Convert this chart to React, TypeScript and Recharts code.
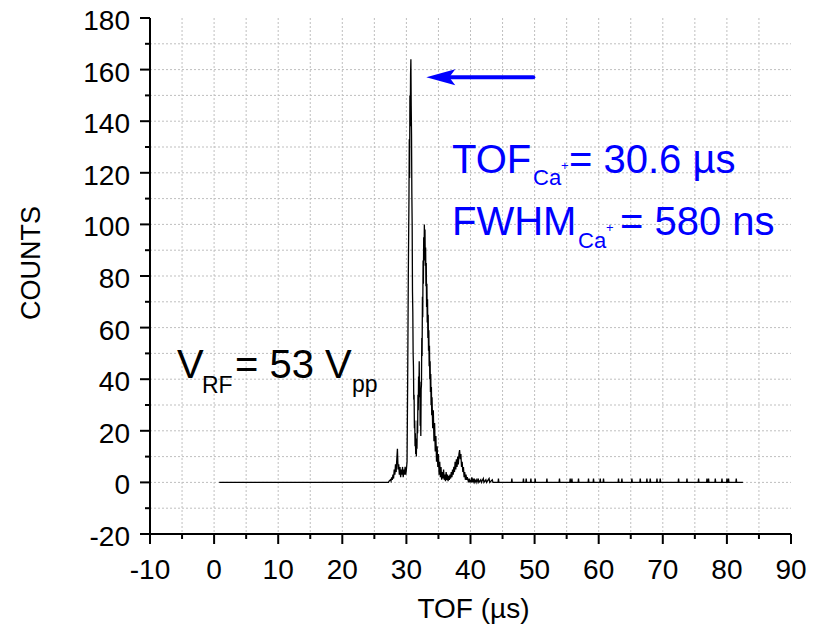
import { LineChart, Line, XAxis, YAxis, CartesianGrid, ReferenceLine } from 'recharts';

const FONT = '"Liberation Sans", Arial, Helvetica, sans-serif';
const BLUE = '#0000ff';

// axis ticks (major every 10 / 20, minor halfway)
const xTicks = [-10, -5, 0, 5, 10, 15, 20, 25, 30, 35, 40, 45, 50, 55, 60, 65, 70, 75, 80, 85, 90];
const yTicks = [-20, -10, 0, 10, 20, 30, 40, 50, 60, 70, 80, 90, 100, 110, 120, 130, 140, 150, 160, 170, 180];
const xGrid = [-5, 0, 5, 10, 15, 20, 25, 30, 35, 40, 45, 50, 55, 60, 65, 70, 75, 80, 85];
const yGrid = [-10, 0, 10, 20, 30, 40, 50, 60, 70, 80, 90, 100, 110, 120, 130, 140, 150, 160, 170];

// flat start of the trace
const leadTof = [0.8, 27.0];
const leadCounts = [0, 0];

// Ca+ peak region
const peakTof = [
  27.2, 27.3, 27.5, 27.6, 27.7, 27.8, 27.9, 28.0, 28.1, 28.2,
  28.3, 28.4, 28.5, 28.6, 28.7, 28.8, 28.9, 29.0, 29.1, 29.2,
  29.3, 29.4, 29.5, 29.6, 29.7, 29.8, 29.9, 30.0, 30.1, 30.2,
  30.3, 30.4, 30.45, 30.5, 30.55, 30.6, 30.65, 30.7, 30.75, 30.8,
  30.85, 30.9, 30.95, 31.0, 31.05, 31.1, 31.15, 31.2, 31.25, 31.3,
  31.35, 31.4, 31.45, 31.5, 31.55, 31.6, 31.65, 31.7, 31.75, 31.8,
  31.85, 31.9, 31.95, 32.0, 32.05, 32.1, 32.15, 32.2, 32.25, 32.3,
  32.35, 32.4, 32.45, 32.5, 32.55, 32.6, 32.65, 32.7, 32.75, 32.8,
  32.85, 32.9, 32.95, 33.0, 33.05, 33.1, 33.15, 33.2, 33.25, 33.3,
  33.35, 33.4, 33.45, 33.5, 33.55, 33.6, 33.65, 33.7, 33.75, 33.8,
  33.85, 33.9, 33.95, 34.0, 34.1, 34.2, 34.3, 34.4, 34.5, 34.6,
  34.7, 34.8, 34.9, 35.0, 35.1, 35.2, 35.3, 35.4, 35.5, 35.6,
  35.7, 35.8, 35.9, 36.0, 36.1, 36.2, 36.3, 36.4, 36.5, 36.6,
  36.7, 36.8, 36.9, 37.0, 37.1, 37.2, 37.3, 37.4, 37.5, 37.6,
  37.7, 37.8, 37.9, 38.0, 38.1, 38.2, 38.3, 38.4, 38.5, 38.6,
  38.7, 38.8, 38.9, 39.0, 39.1, 39.2, 39.3, 39.4, 39.5,
];
const peakCounts = [
  0, 0.5, 1, 0.5, 2, 1, 3, 1.5, 5, 3,
  7, 4, 9, 13, 5, 7, 3, 6, 2, 5,
  3, 6, 2, 5, 3, 6, 3, 5, 8, 40,
  81, 110, 133, 118, 150, 138, 158, 164, 146, 135,
  112, 100, 74, 66, 50, 45, 32, 34, 21, 24,
  14, 19, 11, 15, 10, 17, 13, 24, 19, 34,
  28, 41, 34, 47, 33, 39, 22, 29, 18, 36,
  38, 56, 49, 72, 64, 86, 77, 95, 86, 100,
  90, 98, 84, 91, 76, 85, 68, 77, 62, 71,
  56, 65, 51, 59, 45, 53, 40, 47, 35, 42,
  30, 37, 26, 33, 21, 28, 16, 23, 12, 18,
  8, 14, 6, 11, 3, 8, 2, 6, 1, 4,
  1.5, 5, 1, 3, 0.5, 4, 1, 3, 0.5, 2.5,
  1, 3, 1.5, 4, 2, 5, 3, 6, 4, 8,
  5, 9, 6, 10, 7, 11, 12.5, 9, 11, 6,
  8, 4, 6, 2, 4, 1, 3, 1, 2,
];

// sparse single-count noise in the tail
const tailTof = [
  39.6, 39.7, 39.8, 39.9, 40.0, 40.1, 40.2, 40.3, 40.4, 40.5,
  40.6, 40.7, 40.9, 41.0, 41.2, 41.3, 41.6, 41.7, 42.0, 42.1,
  42.4, 42.5, 42.9, 43.0, 43.4, 43.5, 44.3, 44.36, 44.42, 46.39,
  46.45, 46.51, 48.2, 48.26, 48.32, 48.63, 48.69, 48.75, 49.36, 49.42,
  49.48, 50.03, 50.09, 50.15, 51.86, 51.92, 51.98, 53.82, 53.88, 53.94,
  55.49, 55.55, 55.61, 55.76, 55.82, 55.88, 56.79, 56.85, 56.91, 58.35,
  58.41, 58.47, 59.13, 59.19, 59.25, 60.18, 60.24, 60.3, 60.69, 60.75,
  60.81, 63.03, 63.09, 63.15, 63.56, 63.62, 63.68, 65.12, 65.18, 65.24,
  66.42, 66.48, 66.54, 67.46, 67.52, 67.58, 67.98, 68.04, 68.1, 69.03,
  69.09, 69.15, 69.54, 69.6, 69.66, 72.4, 72.46, 72.52, 73.71, 73.77,
  73.83, 75.52, 75.58, 75.64, 76.83, 76.89, 76.95, 77.08, 77.14, 77.2,
  78.13, 78.19, 78.25, 79.17, 79.23, 79.29, 79.95, 80.01, 80.07, 80.2,
  80.26, 80.32, 81.4, 81.46, 81.52, 82.5,
];
const tailCounts = [
  1, 0, 1.5, 0, 1, 0, 2, 0, 1, 0.3,
  1.5, 0, 1, 0, 1.5, 0, 1, 0, 1.5, 0,
  1, 0, 1.5, 0, 1, 0, 0, 1.5, 0, 0,
  1.5, 0, 0, 1.5, 0, 0, 1.5, 0, 0, 1.5,
  0, 0, 1.5, 0, 0, 1.5, 0, 0, 1.5, 0,
  0, 1.5, 0, 0, 1.5, 0, 0, 1.5, 0, 0,
  1.5, 0, 0, 1.5, 0, 0, 1.5, 0, 0, 1.5,
  0, 0, 1.5, 0, 0, 1.5, 0, 0, 1.5, 0,
  0, 1.5, 0, 0, 1.5, 0, 0, 1.5, 0, 0,
  1.5, 0, 0, 1.5, 0, 0, 1.5, 0, 0, 1.5,
  0, 0, 1.5, 0, 0, 1.5, 0, 0, 1.5, 0,
  0, 1.5, 0, 0, 1.5, 0, 0, 1.5, 0, 0,
  1.5, 0, 0, 1.5, 0, 0,
];

const allTof = [...leadTof, ...peakTof, ...tailTof];
const allCounts = [...leadCounts, ...peakCounts, ...tailCounts];
const spectrum = allTof.map((t, i) => ({ tof: t, counts: allCounts[i] }));

const XTick = (props: any) => {
  const { x, y, payload } = props;
  const major = payload.value % 10 === 0;
  return (
    <g>
      <line x1={x} y1={y} x2={x} y2={y + (major ? 10 : 5)} stroke="#000" strokeWidth={2} />
      {major && (
        <text x={x} y={y + 45} textAnchor="middle" fontSize={28} fontFamily={FONT} fill="#000">
          {payload.value}
        </text>
      )}
    </g>
  );
};

const YTick = (props: any) => {
  const { x, y, payload } = props;
  const major = payload.value % 20 === 0;
  return (
    <g>
      <line x1={x - (major ? 10 : 5)} y1={y} x2={x} y2={y} stroke="#000" strokeWidth={2} />
      {major && (
        <text x={x - 20} y={y + 12} textAnchor="end" fontSize={28} fontFamily={FONT} fill="#000">
          {payload.value}
        </text>
      )}
    </g>
  );
};

const Arrow = (props: any) => {
  const { x1, y1, x2, y2 } = props;
  return (
    <g>
      <line x1={x1} y1={y1} x2={x2 + 20} y2={y2} stroke={BLUE} strokeWidth={4} strokeLinecap="round" />
      <path d={`M${x2},${y2} L${x2 + 29},${y2 - 8} L${x2 + 23},${y2} L${x2 + 29},${y2 + 8} Z`} fill={BLUE} />
    </g>
  );
};

export default function App() {
  return (
    <div style={{ position: 'fixed', top: 0, left: 0, width: 820, height: 624, background: '#fff' }}>
      <LineChart width={820} height={624} data={spectrum} margin={{ top: 18, right: 29, bottom: 0, left: 0 }}>
        <CartesianGrid
          stroke="#bfbfbf"
          strokeDasharray="2 2"
          verticalValues={xGrid}
          horizontalValues={yGrid}
        />
        <XAxis
          dataKey="tof"
          type="number"
          domain={[-10, 90]}
          ticks={xTicks}
          interval={0}
          height={90}
          tickSize={0}
          tickMargin={0}
          tickLine={false}
          tick={<XTick />}
          axisLine={{ stroke: '#000', strokeWidth: 2 }}
          allowDataOverflow
          label={{
            content: (p: any) => (
              <text
                x={p.viewBox.x + p.viewBox.width / 2 + 3}
                y={618}
                textAnchor="middle"
                fontSize={28}
                fontFamily={FONT}
                fill="#000"
              >
                TOF (µs)
              </text>
            ),
          }}
        />
        <YAxis
          type="number"
          domain={[-20, 180]}
          ticks={yTicks}
          interval={0}
          width={150}
          tickSize={0}
          tickMargin={0}
          tickLine={false}
          tick={<YTick />}
          axisLine={{ stroke: '#000', strokeWidth: 2 }}
          allowDataOverflow
          label={{
            content: () => (
              <text
                x={31}
                y={263}
                transform="rotate(-90 31 263)"
                textAnchor="middle"
                dominantBaseline="central"
                fontSize={27}
                fontFamily={FONT}
                fill="#000"
              >
                COUNTS
              </text>
            ),
          }}
        />
        <ReferenceLine
          segment={[{ x: 49.8, y: 157 }, { x: 33.1, y: 157 }]}
          shape={<Arrow />}
          ifOverflow="visible"
        />
        <Line
          type="linear"
          dataKey="counts"
          stroke="#000"
          strokeWidth={1.3}
          dot={false}
          activeDot={false}
          isAnimationActive={false}
        />
      </LineChart>
      <svg
        width={820}
        height={624}
        style={{ position: 'absolute', top: 0, left: 0, pointerEvents: 'none' }}
        fontFamily={FONT}
      >
        <g fill={BLUE}>
          <text x={452} y={173} fontSize={40}>TOF</text>
          <text x={533} y={185} fontSize={22}>Ca</text>
          <text x={561} y={170} fontSize={13}>+</text>
          <text x={569} y={173} fontSize={40}>= 30.6 µs</text>
          <text x={452} y={235} fontSize={40}>FWHM</text>
          <text x={578} y={248} fontSize={22}>Ca</text>
          <text x={606} y={232} fontSize={13}>+</text>
          <text x={620} y={235} fontSize={40}>= 580 ns</text>
        </g>
        <g fill="#000">
          <text x={177} y={378} fontSize={40}>V</text>
          <text x={202} y={393} fontSize={23}>RF</text>
          <text x={235} y={378} fontSize={40}>= 53 V</text>
          <text x={352} y={392} fontSize={23}>pp</text>
        </g>
      </svg>
    </div>
  );
}
